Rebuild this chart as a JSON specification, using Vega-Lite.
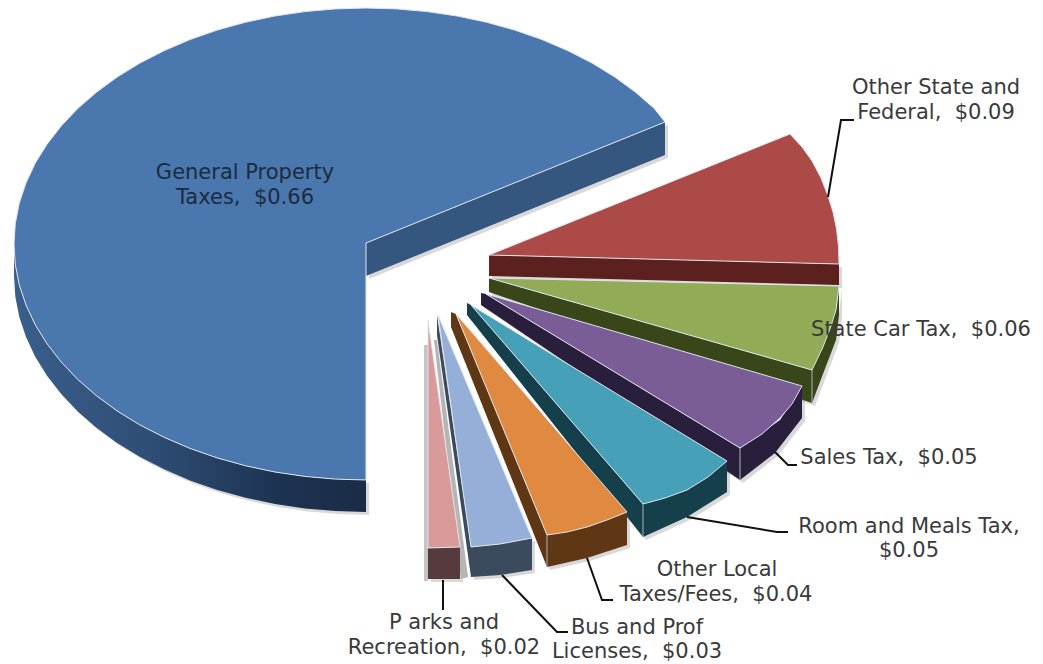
{"$schema":"https://vega.github.io/schema/vega-lite/v6.json","width":1043,"height":664,"padding":0,"autosize":"none","background":"white","view":{"stroke":null},
"datasets":{
"outlines":[
{"part":"Blue cut","seq":1,"x":366,"y":243},{"part":"Blue cut","seq":2,"x":665,"y":122},{"part":"Blue cut","seq":3,"x":665,"y":155},{"part":"Blue cut","seq":4,"x":366,"y":276},
{"part":"Blue top","seq":1,"x":366,"y":243},{"part":"Blue top","seq":2,"x":665,"y":122},{"part":"Blue top","seq":3,"x":654.3,"y":108.6},{"part":"Blue top","seq":4,"x":635.6,"y":92.3},{"part":"Blue top","seq":5,"x":614.9,"y":77.1},{"part":"Blue top","seq":6,"x":592.3,"y":63.2},{"part":"Blue top","seq":7,"x":567.9,"y":50.7},{"part":"Blue top","seq":8,"x":542,"y":39.6},{"part":"Blue top","seq":9,"x":514.8,"y":30.1},{"part":"Blue top","seq":10,"x":486.4,"y":22.2},{"part":"Blue top","seq":11,"x":457.1,"y":16},{"part":"Blue top","seq":12,"x":427.1,"y":11.6},{"part":"Blue top","seq":13,"x":396.7,"y":8.9},{"part":"Blue top","seq":14,"x":366,"y":8},{"part":"Blue top","seq":15,"x":335.3,"y":8.9},{"part":"Blue top","seq":16,"x":304.9,"y":11.6},{"part":"Blue top","seq":17,"x":274.9,"y":16},{"part":"Blue top","seq":18,"x":245.6,"y":22.2},{"part":"Blue top","seq":19,"x":217.2,"y":30.1},{"part":"Blue top","seq":20,"x":190,"y":39.6},{"part":"Blue top","seq":21,"x":164.1,"y":50.7},{"part":"Blue top","seq":22,"x":139.7,"y":63.2},{"part":"Blue top","seq":23,"x":117.1,"y":77.1},{"part":"Blue top","seq":24,"x":96.4,"y":92.3},{"part":"Blue top","seq":25,"x":77.7,"y":108.6},{"part":"Blue top","seq":26,"x":61.2,"y":126},{"part":"Blue top","seq":27,"x":47,"y":144.3},{"part":"Blue top","seq":28,"x":35.2,"y":163.3},{"part":"Blue top","seq":29,"x":26,"y":183},{"part":"Blue top","seq":30,"x":19.3,"y":203},{"part":"Blue top","seq":31,"x":15.3,"y":223.4},{"part":"Blue top","seq":32,"x":14,"y":244},{"part":"Blue top","seq":33,"x":15.3,"y":264.6},{"part":"Blue top","seq":34,"x":19.3,"y":285},{"part":"Blue top","seq":35,"x":26,"y":305},{"part":"Blue top","seq":36,"x":35.2,"y":324.7},{"part":"Blue top","seq":37,"x":47,"y":343.7},{"part":"Blue top","seq":38,"x":61.2,"y":362},{"part":"Blue top","seq":39,"x":77.7,"y":379.4},{"part":"Blue top","seq":40,"x":96.4,"y":395.7},{"part":"Blue top","seq":41,"x":117.1,"y":410.9},{"part":"Blue top","seq":42,"x":139.7,"y":424.8},{"part":"Blue top","seq":43,"x":164.1,"y":437.3},{"part":"Blue top","seq":44,"x":190,"y":448.4},{"part":"Blue top","seq":45,"x":217.2,"y":457.9},{"part":"Blue top","seq":46,"x":245.6,"y":465.8},{"part":"Blue top","seq":47,"x":274.9,"y":472},{"part":"Blue top","seq":48,"x":304.9,"y":476.4},{"part":"Blue top","seq":49,"x":335.3,"y":479.1},{"part":"Blue top","seq":50,"x":366,"y":480},
{"part":"Red cut","seq":1,"x":489,"y":255},{"part":"Red cut","seq":2,"x":839,"y":264},{"part":"Red cut","seq":3,"x":839,"y":285},{"part":"Red cut","seq":4,"x":489,"y":276},
{"part":"Red top","seq":1,"x":489,"y":255},{"part":"Red top","seq":2,"x":790,"y":134},{"part":"Red top","seq":3,"x":802,"y":147},{"part":"Red top","seq":4,"x":812,"y":161},{"part":"Red top","seq":5,"x":821,"y":178},{"part":"Red top","seq":6,"x":828,"y":196},{"part":"Red top","seq":7,"x":833,"y":212},{"part":"Red top","seq":8,"x":836.5,"y":229},{"part":"Red top","seq":9,"x":838.5,"y":246},{"part":"Red top","seq":10,"x":839,"y":264},
{"part":"Green rim","seq":1,"x":839,"y":286},{"part":"Green rim","seq":2,"x":836,"y":310},{"part":"Green rim","seq":3,"x":826,"y":333},{"part":"Green rim","seq":4,"x":812,"y":370},{"part":"Green rim","seq":5,"x":812,"y":403},{"part":"Green rim","seq":6,"x":826,"y":366},{"part":"Green rim","seq":7,"x":836,"y":340},{"part":"Green rim","seq":8,"x":839,"y":315},
{"part":"Green cut","seq":1,"x":489,"y":278},{"part":"Green cut","seq":2,"x":812,"y":370},{"part":"Green cut","seq":3,"x":812,"y":403},{"part":"Green cut","seq":4,"x":489,"y":292},
{"part":"Green top","seq":1,"x":489,"y":278},{"part":"Green top","seq":2,"x":839,"y":286},{"part":"Green top","seq":3,"x":836,"y":310},{"part":"Green top","seq":4,"x":831,"y":326},{"part":"Green top","seq":5,"x":823,"y":347},{"part":"Green top","seq":6,"x":812,"y":370},
{"part":"Purple rim","seq":1,"x":802,"y":386},{"part":"Purple rim","seq":2,"x":780,"y":420},{"part":"Purple rim","seq":3,"x":740,"y":448},{"part":"Purple rim","seq":4,"x":740,"y":480},{"part":"Purple rim","seq":5,"x":775,"y":453},{"part":"Purple rim","seq":6,"x":802,"y":418},
{"part":"Purple cut","seq":1,"x":481,"y":293},{"part":"Purple cut","seq":2,"x":486,"y":294},{"part":"Purple cut","seq":3,"x":740,"y":448},{"part":"Purple cut","seq":4,"x":740,"y":480},{"part":"Purple cut","seq":5,"x":481,"y":305},
{"part":"Purple top","seq":1,"x":486,"y":294},{"part":"Purple top","seq":2,"x":802,"y":386},{"part":"Purple top","seq":3,"x":792,"y":404},{"part":"Purple top","seq":4,"x":780,"y":418},{"part":"Purple top","seq":5,"x":762,"y":434},{"part":"Purple top","seq":6,"x":740,"y":448},
{"part":"Teal rim","seq":1,"x":727,"y":461},{"part":"Teal rim","seq":2,"x":687,"y":490},{"part":"Teal rim","seq":3,"x":643,"y":504},{"part":"Teal rim","seq":4,"x":643,"y":537},{"part":"Teal rim","seq":5,"x":687,"y":517},{"part":"Teal rim","seq":6,"x":727,"y":492},
{"part":"Teal cut","seq":1,"x":467,"y":303},{"part":"Teal cut","seq":2,"x":471,"y":305},{"part":"Teal cut","seq":3,"x":643,"y":504},{"part":"Teal cut","seq":4,"x":643,"y":537},{"part":"Teal cut","seq":5,"x":467,"y":315},
{"part":"Teal top","seq":1,"x":471,"y":305},{"part":"Teal top","seq":2,"x":727,"y":461},{"part":"Teal top","seq":3,"x":708,"y":477},{"part":"Teal top","seq":4,"x":687,"y":490},{"part":"Teal top","seq":5,"x":665,"y":498},{"part":"Teal top","seq":6,"x":643,"y":504},
{"part":"Orange rim","seq":1,"x":627,"y":512},{"part":"Orange rim","seq":2,"x":587,"y":527},{"part":"Orange rim","seq":3,"x":547,"y":535},{"part":"Orange rim","seq":4,"x":547,"y":567},{"part":"Orange rim","seq":5,"x":587,"y":558},{"part":"Orange rim","seq":6,"x":627,"y":545},
{"part":"Orange cut","seq":1,"x":451,"y":312},{"part":"Orange cut","seq":2,"x":456,"y":314},{"part":"Orange cut","seq":3,"x":547,"y":535},{"part":"Orange cut","seq":4,"x":547,"y":567},{"part":"Orange cut","seq":5,"x":451,"y":327},
{"part":"Orange top","seq":1,"x":456,"y":314},{"part":"Orange top","seq":2,"x":627,"y":512},{"part":"Orange top","seq":3,"x":607,"y":520},{"part":"Orange top","seq":4,"x":587,"y":527},{"part":"Orange top","seq":5,"x":567,"y":532},{"part":"Orange top","seq":6,"x":547,"y":535},
{"part":"Gap shade","seq":1,"x":434,"y":340},{"part":"Gap shade","seq":2,"x":437,"y":340},{"part":"Gap shade","seq":3,"x":468,"y":577},{"part":"Gap shade","seq":4,"x":461,"y":579},
{"part":"Pink shade","seq":1,"x":424,"y":345},{"part":"Pink shade","seq":2,"x":428,"y":345},{"part":"Pink shade","seq":3,"x":428,"y":581},{"part":"Pink shade","seq":4,"x":424,"y":581},
{"part":"Sky rim","seq":1,"x":532,"y":538},{"part":"Sky rim","seq":2,"x":500,"y":544},{"part":"Sky rim","seq":3,"x":471,"y":547},{"part":"Sky rim","seq":4,"x":471,"y":577},{"part":"Sky rim","seq":5,"x":500,"y":575},{"part":"Sky rim","seq":6,"x":532,"y":570},
{"part":"Sky cut","seq":1,"x":437,"y":315},{"part":"Sky cut","seq":2,"x":471,"y":547},{"part":"Sky cut","seq":3,"x":471,"y":577},{"part":"Sky cut","seq":4,"x":437,"y":335},
{"part":"Sky top","seq":1,"x":438,"y":315},{"part":"Sky top","seq":2,"x":532,"y":538},{"part":"Sky top","seq":3,"x":500,"y":544},{"part":"Sky top","seq":4,"x":471,"y":547},
{"part":"Pink rim","seq":1,"x":428,"y":548},{"part":"Pink rim","seq":2,"x":460,"y":547},{"part":"Pink rim","seq":3,"x":460,"y":579},{"part":"Pink rim","seq":4,"x":428,"y":579},
{"part":"Pink top","seq":1,"x":428,"y":320},{"part":"Pink top","seq":2,"x":460,"y":547},{"part":"Pink top","seq":3,"x":428,"y":548}
],
"blueRim":[
{"seq":1,"x":14,"y":244},{"seq":2,"x":15.3,"y":264.6},{"seq":3,"x":19.3,"y":285},{"seq":4,"x":26,"y":305},{"seq":5,"x":35.2,"y":324.7},{"seq":6,"x":47,"y":343.7},{"seq":7,"x":61.2,"y":362},{"seq":8,"x":77.7,"y":379.4},{"seq":9,"x":96.4,"y":395.7},{"seq":10,"x":117.1,"y":410.9},{"seq":11,"x":139.7,"y":424.8},{"seq":12,"x":164.1,"y":437.3},{"seq":13,"x":190,"y":448.4},{"seq":14,"x":217.2,"y":457.9},{"seq":15,"x":245.6,"y":465.8},{"seq":16,"x":274.9,"y":472},{"seq":17,"x":304.9,"y":476.4},{"seq":18,"x":335.3,"y":479.1},{"seq":19,"x":366,"y":480},
{"seq":20,"x":366,"y":512},{"seq":21,"x":335.3,"y":511.1},{"seq":22,"x":304.9,"y":508.4},{"seq":23,"x":274.9,"y":504},{"seq":24,"x":245.6,"y":497.8},{"seq":25,"x":217.2,"y":489.9},{"seq":26,"x":190,"y":480.4},{"seq":27,"x":164.1,"y":469.3},{"seq":28,"x":139.7,"y":456.8},{"seq":29,"x":117.1,"y":442.9},{"seq":30,"x":96.4,"y":427.7},{"seq":31,"x":77.7,"y":411.4},{"seq":32,"x":61.2,"y":394},{"seq":33,"x":47,"y":375.7},{"seq":34,"x":35.2,"y":356.7},{"seq":35,"x":26,"y":337},{"seq":36,"x":19.3,"y":317},{"seq":37,"x":15.3,"y":296.6},{"seq":38,"x":14,"y":276}
],
"edges":[
{"edge":"Green","seq":1,"x":812,"y":370},{"edge":"Green","seq":2,"x":812,"y":403},
{"edge":"Purple","seq":1,"x":740,"y":448},{"edge":"Purple","seq":2,"x":740,"y":480},
{"edge":"Teal","seq":1,"x":643,"y":504},{"edge":"Teal","seq":2,"x":643,"y":537},
{"edge":"Orange","seq":1,"x":547,"y":535},{"edge":"Orange","seq":2,"x":547,"y":567}
],
"leaders":[
{"slice":"Other State and Federal","seq":1,"x":828,"y":197},{"slice":"Other State and Federal","seq":2,"x":841,"y":120},{"slice":"Other State and Federal","seq":3,"x":854,"y":120},
{"slice":"Sales Tax","seq":1,"x":775,"y":452},{"slice":"Sales Tax","seq":2,"x":788,"y":465},{"slice":"Sales Tax","seq":3,"x":797,"y":465},
{"slice":"Room and Meals Tax","seq":1,"x":687,"y":517},{"slice":"Room and Meals Tax","seq":2,"x":777,"y":532},{"slice":"Room and Meals Tax","seq":3,"x":788,"y":532},
{"slice":"Other Local Taxes/Fees","seq":1,"x":587,"y":558},{"slice":"Other Local Taxes/Fees","seq":2,"x":602,"y":600},{"slice":"Other Local Taxes/Fees","seq":3,"x":613,"y":600},
{"slice":"Bus and Prof Licenses","seq":1,"x":502,"y":575},{"slice":"Bus and Prof Licenses","seq":2,"x":557,"y":632},{"slice":"Bus and Prof Licenses","seq":3,"x":568,"y":632},
{"slice":"Parks and Recreation","seq":1,"x":443,"y":580},{"slice":"Parks and Recreation","seq":2,"x":443,"y":610}
],
"labels":[
{"slice":"General Property Taxes","line":"General Property","x":245,"y":173},{"slice":"General Property Taxes","line":"Taxes,\u00a0\u00a0$0.66","x":245,"y":198},
{"slice":"Other State and Federal","line":"Other State and","x":936,"y":88},{"slice":"Other State and Federal","line":"Federal,\u00a0\u00a0$0.09","x":936,"y":113},
{"slice":"State Car Tax","line":"State Car Tax,\u00a0\u00a0$0.06","x":921,"y":330},
{"slice":"Sales Tax","line":"Sales Tax,\u00a0\u00a0$0.05","x":889,"y":458},
{"slice":"Room and Meals Tax","line":"Room and Meals Tax,","x":909,"y":527},{"slice":"Room and Meals Tax","line":"$0.05","x":909,"y":551},
{"slice":"Other Local Taxes/Fees","line":"Other Local","x":717,"y":570},{"slice":"Other Local Taxes/Fees","line":"Taxes/Fees,\u00a0\u00a0$0.04","x":716,"y":595},
{"slice":"Bus and Prof Licenses","line":"Bus and Prof","x":637,"y":628},{"slice":"Bus and Prof Licenses","line":"Licenses,\u00a0\u00a0$0.03","x":637,"y":652},
{"slice":"Parks and Recreation","line":"P arks and","x":444,"y":623},{"slice":"Parks and Recreation","line":"Recreation,\u00a0\u00a0$0.02","x":444,"y":648}
]},
"encoding":{
"x":{"field":"x","type":"quantitative","scale":{"domain":[0,1043],"nice":false,"zero":false},"axis":null},
"y":{"field":"y","type":"quantitative","scale":{"domain":[664,0],"nice":false,"zero":false},"axis":null}
},
"layer":[
{"data":{"name":"outlines"},"transform":[{"filter":"test(/cut|rim/, datum.part)"}],"mark":{"type":"line","interpolate":"linear-closed","strokeOpacity":0,"fill":"#000000","fillOpacity":0.15,"xOffset":3,"yOffset":3},"encoding":{"detail":{"field":"part"},"order":{"field":"seq","type":"quantitative"}}},
{"data":{"name":"blueRim"},"mark":{"type":"line","interpolate":"linear-closed","strokeOpacity":0,"fill":"#000000","fillOpacity":0.15,"xOffset":3,"yOffset":3},"encoding":{"order":{"field":"seq","type":"quantitative"}}},
{"data":{"name":"blueRim"},"mark":{"type":"line","interpolate":"linear-closed","strokeOpacity":0,"fill":{"gradient":"linear","x1":0,"y1":0,"x2":1,"y2":0,"stops":[{"offset":0,"color":"#3a5f8c"},{"offset":0.4,"color":"#2e4d74"},{"offset":0.75,"color":"#1d3352"},{"offset":1,"color":"#1a2c46"}]}},"encoding":{"order":{"field":"seq","type":"quantitative"}}},
{"data":{"name":"outlines"},"mark":{"type":"line","interpolate":"linear-closed","strokeWidth":1},"encoding":{
"detail":{"field":"part"},
"order":{"field":"seq","type":"quantitative"},
"fill":{"field":"part","type":"nominal","legend":null,"scale":{"domain":["Blue cut","Blue top","Red cut","Red top","Green rim","Green cut","Green top","Purple rim","Purple cut","Purple top","Teal rim","Teal cut","Teal top","Orange rim","Orange cut","Orange top","Gap shade","Pink shade","Sky rim","Sky cut","Sky top","Pink rim","Pink top"],"range":["#35567f","#4a78ae","#5c201f","#ab4a47","#384619","#384619","#91ab56","#2a1e3d","#2a1e3d","#7a5c96","#153f4b","#153f4b","#45a0b8","#5f3714","#5f3714","#e08a41","#b5b5b5","#c4c4c4","#3c4a5e","#3c4a5e","#96afd8","#553a3e","#d99a9a"]}},
"stroke":{"condition":{"test":"test(/top$/, datum.part)","value":"#dfe5ec"},"value":"transparent"}
}},
{"data":{"name":"edges"},"mark":{"type":"line","stroke":"#aab3bb","strokeWidth":1},"encoding":{"detail":{"field":"edge"},"order":{"field":"seq","type":"quantitative"}}},
{"data":{"name":"leaders"},"mark":{"type":"line","stroke":"#111111","strokeWidth":2},"encoding":{"detail":{"field":"slice"},"order":{"field":"seq","type":"quantitative"}}},
{"data":{"name":"labels"},"mark":{"type":"text","font":"DejaVu Sans","fontSize":21,"align":"center","baseline":"middle"},"encoding":{
"text":{"field":"line"},
"color":{"condition":{"test":"datum.slice==='General Property Taxes'","value":"#1c2b40"},"value":"#3a3a3a"}
}}
]}
